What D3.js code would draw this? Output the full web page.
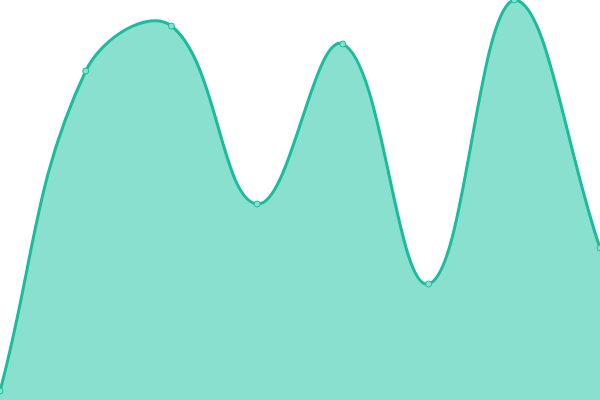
<!DOCTYPE html>
<html>
<head>
<meta charset="utf-8">
<script src="https://cdn.jsdelivr.net/npm/d3@7"></script>
<style>
  html, body { margin: 0; padding: 0; background: #ffffff; }
  svg { display: block; }
</style>
</head>
<body>
<div class="chart"></div>
<script>
// Data.
const categories = ["A", "B", "C", "D", "E", "F", "G", "H"];
const values = [9, 329, 374, 196, 356, 116, 400, 152];

const width = 600;
const height = 400;
const tension = 0.4;

const svg = d3.select(".chart")
  .append("svg")
  .attr("width", width)
  .attr("height", height)
  .attr("viewBox", [0, 0, width, height]);

const x = d3.scalePoint()
  .domain(categories)
  .range([0, width]);

const y = d3.scaleLinear()
  .domain([0, 400])
  .range([height, 0]);

const pts = values.map((d, i) => [x(categories[i]), y(d)]);

// Spline with distance-weighted control points (like a tension 0.4 smooth line).
function smoothPath(p) {
  const cps = p.map((cur, i) => {
    const prev = p[i - 1] || cur;
    const next = p[i + 1] || cur;
    const d01 = Math.hypot(cur[0] - prev[0], cur[1] - prev[1]);
    const d12 = Math.hypot(next[0] - cur[0], next[1] - cur[1]);
    let s01 = d01 / (d01 + d12);
    let s12 = d12 / (d01 + d12);
    if (isNaN(s01)) s01 = 0;
    if (isNaN(s12)) s12 = 0;
    const fa = tension * s01;
    const fb = tension * s12;
    const clamp = (v, lo, hi) => Math.max(lo, Math.min(hi, v));
    return {
      prev: [clamp(cur[0] - fa * (next[0] - prev[0]), 0, width), clamp(cur[1] - fa * (next[1] - prev[1]), 0, height)],
      next: [clamp(cur[0] + fb * (next[0] - prev[0]), 0, width), clamp(cur[1] + fb * (next[1] - prev[1]), 0, height)]
    };
  });
  const path = d3.path();
  path.moveTo(p[0][0], p[0][1]);
  for (let i = 1; i < p.length; i++) {
    path.bezierCurveTo(cps[i - 1].next[0], cps[i - 1].next[1], cps[i].prev[0], cps[i].prev[1], p[i][0], p[i][1]);
  }
  return path.toString();
}

const linePath = smoothPath(pts);

// Filled area under the smooth line.
svg.append("path")
  .attr("fill", "#8ae0cf")
  .attr("d", `${linePath}L${width},${height}L0,${height}Z`);

svg.append("path")
  .attr("fill", "none")
  .attr("stroke", "#1abc9c")
  .attr("stroke-width", 3)
  .attr("d", linePath);

// Small markers on each data point.
svg.selectAll(".dot")
  .data(pts)
  .join("circle")
  .attr("class", "dot")
  .attr("cx", d => d[0])
  .attr("cy", d => d[1])
  .attr("r", 3)
  .attr("fill", "#8ae0cf")
  .attr("stroke", "#1abc9c")
  .attr("stroke-width", 1);
</script>
</body>
</html>
